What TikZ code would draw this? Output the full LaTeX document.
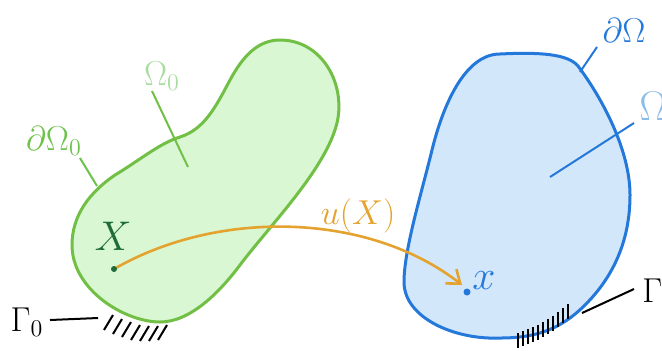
\documentclass[tikz,border=0pt]{standalone}
\usetikzlibrary{arrows.meta}
\definecolor{gfill}{HTML}{D8F7D2}
\definecolor{gline}{HTML}{72BF45}
\definecolor{glabel}{HTML}{6CC24A}
\definecolor{glight}{HTML}{A9DCA0}
\definecolor{gdark}{HTML}{1F6B3A}
\definecolor{bfill}{HTML}{D3E7FA}
\definecolor{bline}{HTML}{2478DA}
\definecolor{blight}{HTML}{8DBCE6}
\definecolor{orng}{HTML}{E4A22E}
\tikzset{
  lbl/.style={inner sep=0pt, font=\fontsize{17.5}{20}\selectfont},
  biglbl/.style={inner sep=0pt, font=\fontsize{22}{26}\selectfont},
  lead/.style={line width=1pt},
  hatch/.style={line width=1pt, black},
}
\begin{document}
\begin{tikzpicture}[x=0.5pt,y=-0.5pt]
\useasboundingbox (0,0) rectangle (662,350);
% green body
\draw[line width=1.5pt, draw=gline, fill=gfill]
 (280,40) .. controls (320,40) and (344,80) .. (338,118)
 .. controls (330,165) and (270,225) .. (240,265)
 .. controls (219,293) and (190,322) .. (160,322)
 .. controls (125,322) and (72,290) .. (72,245)
 .. controls (72,215) and (90,192) .. (115,175)
 .. controls (140,160) and (160,143) .. (180,137)
 .. controls (205,129) and (216,106) .. (230,80)
 .. controls (243,56) and (258,40) .. cycle;
% blue body
\draw[line width=1.5pt, draw=bline, fill=bfill]
 (500,54) .. controls (540,52) and (568,54) .. (578,66)
 .. controls (602,98) and (630,150) .. (630,195)
 .. controls (630,245) and (610,280) .. (585,305)
 .. controls (560,330) and (535,338) .. (500,338)
 .. controls (455,340) and (404,318) .. (404,282)
 .. controls (404,250) and (421,195) .. (432,150)
 .. controls (443,105) and (465,54) .. cycle;
% labels
\node[lbl, text=glabel] (dO0) at (54,141) {$\partial\Omega_0$};
\node[lbl, text=glight] (O0) at (162,76) {$\Omega_0$};
\node[biglbl, text=gdark] (X) at (113,236) {$X$};
\node[inner sep=0pt, font=\fontsize{16.5}{19}\selectfont, text=orng] (u) at (358,216) {$u(X)$};
\node[biglbl, text=bline] (x) at (484,281) {$x$};
\node[lbl, text=bline] (dO) at (624,30) {$\partial\Omega$};
\node[biglbl, text=blight, anchor=west] (O) at (639,106) {$\Omega$};
\node[lbl, anchor=west] (G) at (642,291) {$\Gamma$};
\node[lbl] (G0) at (27,322) {$\Gamma_0$};
% leader end points
\coordinate (dO0a) at (80,158); \coordinate (dO0b) at (97,186);
\coordinate (O0a) at (152,91); \coordinate (O0b) at (188,167);
\coordinate (dOa) at (597,47); \coordinate (dOb) at (580,72);
\coordinate (Oa) at (634,123); \coordinate (Ob) at (550,177);
\coordinate (Ga) at (634,289); \coordinate (Gb) at (582,313);
\coordinate (G0a) at (50,320); \coordinate (G0b) at (98,318);
\draw[lead, glabel] (dO0a) -- (dO0b);
\draw[lead, gline] (O0a) -- (O0b);
\draw[lead, bline] (dOa) -- (dOb);
\draw[lead, bline] (Oa) -- (Ob);
\draw[lead, black] (Ga) -- (Gb);
\draw[lead, black] (G0a) -- (G0b);
% hatches
\foreach \a/\b in {113/315,122/319,131/322,140/325,149/326,158/326,167/325}
  \draw[hatch] (\a,\b) -- ++(-9,15);
\foreach \a/\b in {518/333,523/331,528/329,533/327,538/325,543/322,548/319,553/316,558/312,563/308,568/304}
  \draw[hatch] (\a,\b) -- ++(0,15);
% points and map
\coordinate (P) at (114,269);
\coordinate (p) at (467,292);
\coordinate (tip) at (462,285);
\draw[line width=1.3pt, orng, -{Straight Barb[length=6pt,width=9pt]}] (P) .. controls (220,208) and (370,213) .. (tip);
\fill[gdark] (P) circle (3);
\fill[bline] (p) circle (3.5);
\end{tikzpicture}
\end{document}
